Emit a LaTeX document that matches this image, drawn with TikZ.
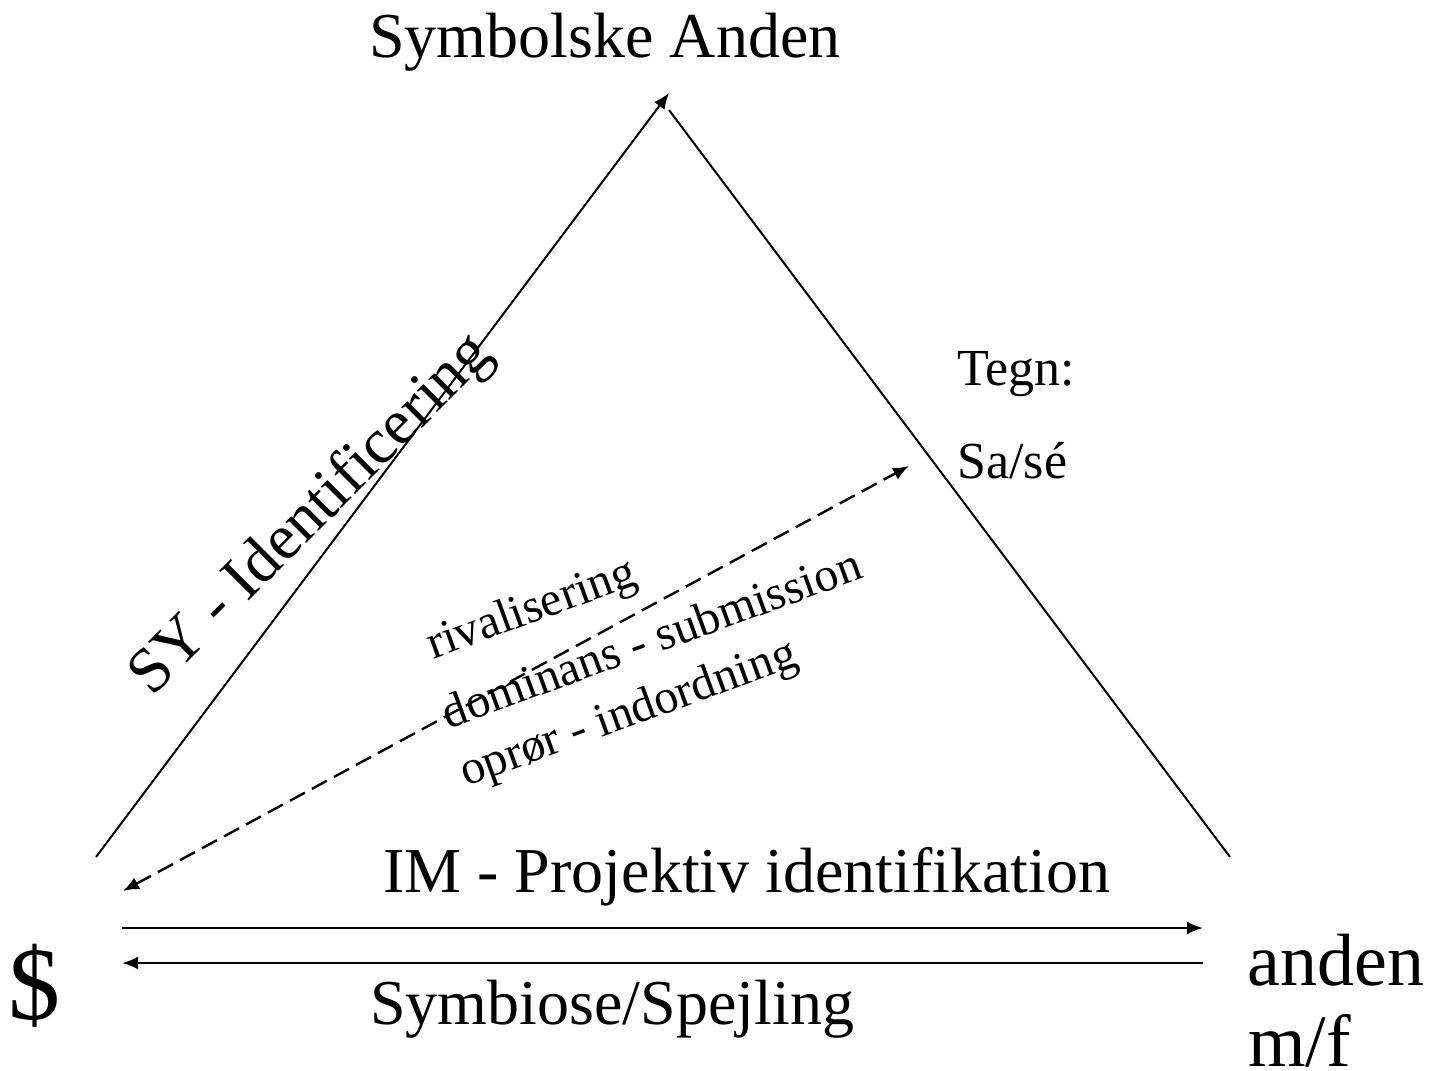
\documentclass[tikz,border=0pt]{standalone}
\usepackage{fontspec}
\setmainfont{Liberation Serif}
\usetikzlibrary{arrows.meta}
\begin{document}
\begin{tikzpicture}[x=0.5pt,y=-0.5pt,
  lbl/.style={inner sep=0pt, anchor=base west},
  rlbl/.style={inner sep=0pt, anchor=center},
  big/.style={font=\fontsize{32}{38}\selectfont},
  small/.style={font=\fontsize{24}{29}\selectfont},
  mid/.style={font=\fontsize{26}{31}\selectfont},
  huge/.style={font=\fontsize{37}{44}\selectfont},
  edge/.style={line width=1pt},
  hedge/.style={line width=1.25pt},
  tipr/.style={-{Latex[length=8pt,width=6.5pt]}},
  dashedge/.style={line width=1.2pt, dash pattern=on 8.5pt off 4pt,
     {Latex[length=8pt,width=6.5pt]}-{Latex[length=8pt,width=6.5pt]}}]
\useasboundingbox[fill=white] (0,0) rectangle (1431,1071);

% texts
\node[lbl,big] (sa) at (369,57) {Symbolske Anden};
\node[lbl,big] (im) at (383,892) {IM - Projektiv identifikation};
\node[lbl,big] (sym) at (370,1024) {Symbiose/Spejling};
\node[lbl,font=\fontsize{52}{60}\selectfont] (subj) at (8,1019) {\$};
\node[lbl,huge] (anden) at (1247,985) {anden};
\node[lbl,huge] (mf) at (1248,1066) {m/f};
\node[lbl,mid] (tegn) at (957,385) {Tegn:};
\node[lbl,mid] (sase) at (957,478) {Sa/sé};
\node[rlbl,big,rotate=45] (sy) at (312,516) {SY - Identificering};
\node[rlbl,small,rotate=20] (riv) at (532,611) {rivalisering};
\node[rlbl,small,rotate=20] (dom) at (651,638) {dominans - submission};
\node[rlbl,small,rotate=20] (opr) at (629,715) {oprør - indordning};

% connector end points
\coordinate (L) at (96,857);
\coordinate (T1) at (669,93);
\coordinate (T2) at (669,110);
\coordinate (R) at (1230,857);
\coordinate (D1) at (909,466);
\coordinate (D2) at (123,891);
\coordinate (H1a) at (122,928);
\coordinate (H1b) at (1203,928);
\coordinate (H2a) at (1203,963);
\coordinate (H2b) at (122,963);

\draw[edge,tipr] (L) -- (T1);
\draw[edge] (T2) -- (R);
\draw[dashedge] (D2) -- (D1);
\draw[hedge,tipr] (H1a) -- (H1b);
\draw[hedge,tipr] (H2a) -- (H2b);
\end{tikzpicture}
\end{document}
